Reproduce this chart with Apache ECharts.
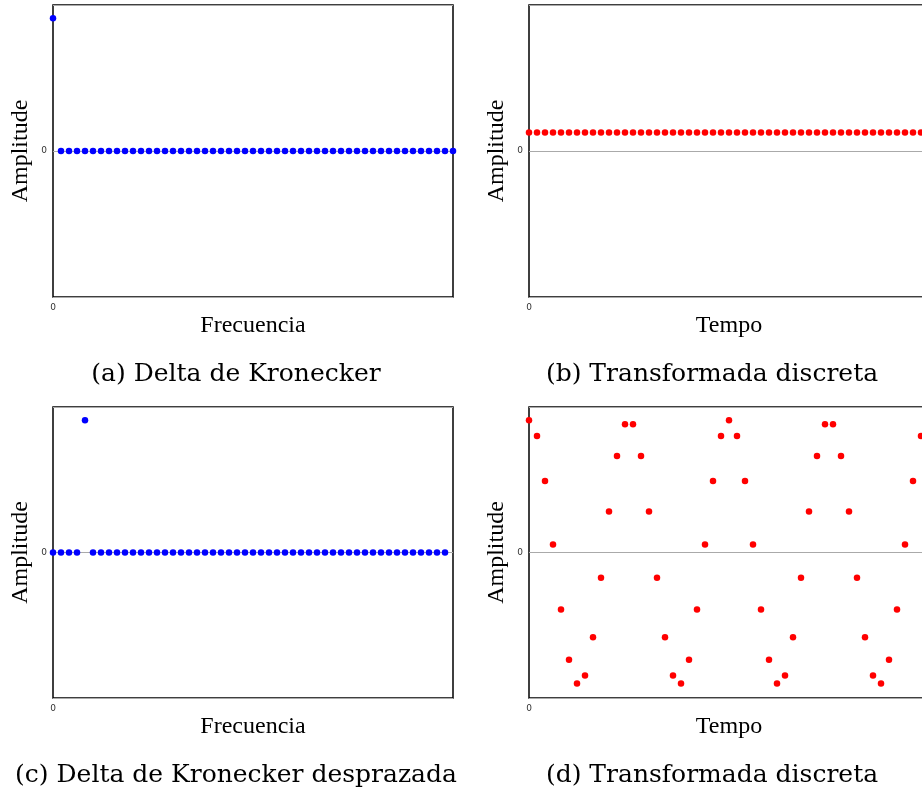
<!DOCTYPE html>
<html>
<head>
<meta charset="utf-8">
<script src="https://cdn.jsdelivr.net/npm/echarts@6/dist/echarts.min.js"></script>
<style>html,body{margin:0;padding:0;background:#fff;overflow:hidden;width:922px;height:797px;}#c{width:932px;height:797px;}</style>
</head>
<body>
<div id="c"></div>
<script>
// (a) Delta de Kronecker, n = 0..50
const deltaA = [1,0,0,0,0,0,0,0,0,0, 0,0,0,0,0,0,0,0,0,0, 0,0,0,0,0,0,0,0,0,0, 0,0,0,0,0,0,0,0,0,0, 0,0,0,0,0,0,0,0,0,0, 0];
// (b) Transformada discreta, k = 0..49
const dftB = [0.14,0.14,0.14,0.14,0.14,0.14,0.14,0.14,0.14,0.14, 0.14,0.14,0.14,0.14,0.14,0.14,0.14,0.14,0.14,0.14, 0.14,0.14,0.14,0.14,0.14,0.14,0.14,0.14,0.14,0.14, 0.14,0.14,0.14,0.14,0.14,0.14,0.14,0.14,0.14,0.14, 0.14,0.14,0.14,0.14,0.14,0.14,0.14,0.14,0.14,0.14];
// (c) Delta de Kronecker desprazada, n = 0..49
const deltaC = [0,0,0,0,1,0,0,0,0,0, 0,0,0,0,0,0,0,0,0,0, 0,0,0,0,0,0,0,0,0,0, 0,0,0,0,0,0,0,0,0,0, 0,0,0,0,0,0,0,0,0,0];
// (d) Transformada discreta, k = 0..49
const dftD = [1,0.88,0.54,0.06,-0.43,-0.81,-0.99,-0.93,-0.64,-0.19, 0.31,0.73,0.97,0.97,0.73,0.31,-0.19,-0.64,-0.93,-0.99, -0.81,-0.43,0.06,0.54,0.88,1,0.88,0.54,0.06,-0.43, -0.81,-0.99,-0.93,-0.64,-0.19,0.31,0.73,0.97,0.97,0.73, 0.31,-0.19,-0.64,-0.93,-0.99,-0.81,-0.43,0.06,0.54,0.88];

const xNames = ['Frecuencia','Tempo','Frecuencia','Tempo'];
const yName = 'Amplitude';
const captions = ['(a) Delta de Kronecker','(b) Transformada discreta','(c) Delta de Kronecker desprazada','(d) Transformada discreta'];
const seriesData = [deltaA, dftB, deltaC, dftD];
const colors = ['#0000ff','#ff0000','#0000ff','#ff0000'];

const grids = [
  {left:53, top:5, width:400, height:292},
  {left:529, top:5, width:400, height:292},
  {left:53, top:407, width:400, height:291},
  {left:529, top:407, width:400, height:291}
];
const captionPos = [[236,374],[712,374],[236,775],[712,775]];

const chart = echarts.init(document.getElementById('c'), null, {renderer:'canvas'});
const option = {
  animation:false,
  backgroundColor:'#fff',
  grid: grids.map(g => Object.assign({show:true, borderColor:'#000', borderWidth:1.5, backgroundColor:'transparent', z:0}, g)),
  xAxis: grids.map((g,i) => ({
    gridIndex:i, type:'value', min:0, max:50, interval:50,
    name:xNames[i], nameLocation:'middle', nameGap:17,
    nameTextStyle:{fontFamily:'Liberation Serif', fontSize:24, color:'#000', verticalAlign:'top'},
    axisLine:{show:false}, axisTick:{show:false}, splitLine:{show:false},
    axisLabel:{fontSize:9, color:'#333', margin:6, fontFamily:'DejaVu Sans', formatter:v => v===0?'0':''}
  })),
  yAxis: grids.map((g,i) => ({
    gridIndex:i, type:'value', min:-1.1, max:1.1, interval:1.1,
    name:yName, nameLocation:'middle', nameGap:20, nameRotate:90,
    nameTextStyle:{fontFamily:'Liberation Serif', fontSize:24, color:'#000'},
    axisLine:{show:false}, axisTick:{show:false},
    splitLine:{show:true, lineStyle:{color:'#aaa', width:1}},
    axisLabel:{fontSize:9, color:'#333', margin:6, fontFamily:'DejaVu Sans', formatter:v => Math.abs(v)<1e-9?'0':''}
  })),
  series: seriesData.map((arr,i) => ({
    type:'scatter', xAxisIndex:i, yAxisIndex:i,
    data: arr.map((v,k) => [k, v]),
    symbol:'circle', symbolSize:6.5,
    itemStyle:{color:colors[i], opacity:1}, z:5
  })),
  graphic: captions.map((t,i) => ({
    type:'text', x:captionPos[i][0], y:captionPos[i][1],
    style:{text:t, font:'25px "DejaVu Serif"', fill:'#000', align:'center', verticalAlign:'middle'}
  }))
};
chart.setOption(option);
</script>
</body>
</html>
